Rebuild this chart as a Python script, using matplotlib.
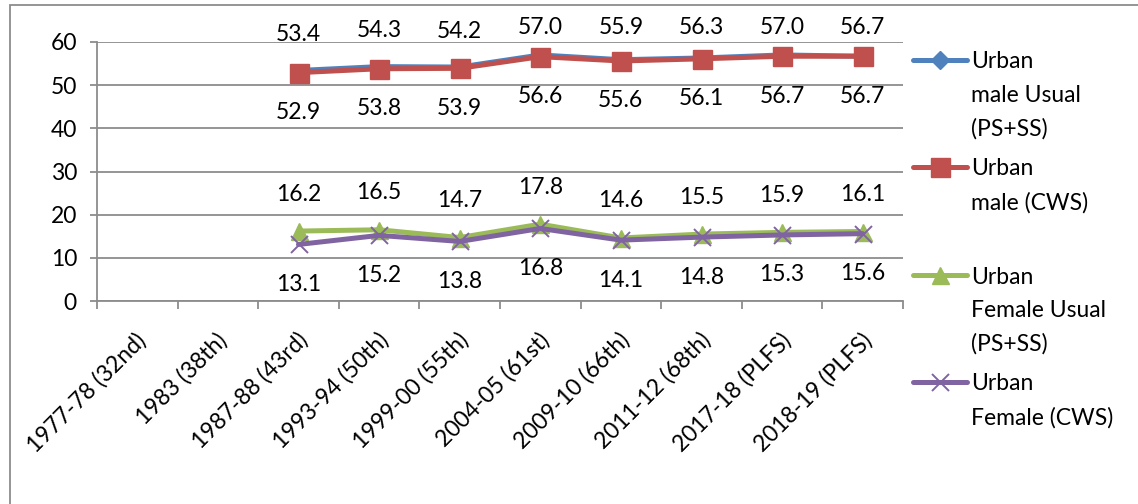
import numpy as np
import matplotlib
matplotlib.use("Agg")
import matplotlib.pyplot as plt
from matplotlib.lines import Line2D
from matplotlib.patches import Rectangle
from matplotlib.transforms import ScaledTranslation

plt.rcParams['font.family'] = ['Lato', 'DejaVu Sans']

# ---- data ----
rounds = ["1977-78 (32nd)", "1983 (38th)", "1987-88 (43rd)", "1993-94 (50th)",
          "1999-00 (55th)", "2004-05 (61st)", "2009-10 (66th)", "2011-12 (68th)",
          "2017-18 (PLFS)", "2018-19 (PLFS)"]
urban_male_usual = [None, None, 53.4, 54.3, 54.2, 57.0, 55.9, 56.3, 57.0, 56.7]
urban_male_cws = [None, None, 52.9, 53.8, 53.9, 56.6, 55.6, 56.1, 56.7, 56.7]
urban_female_usual = [None, None, 16.2, 16.5, 14.7, 17.8, 14.6, 15.5, 15.9, 16.1]
urban_female_cws = [None, None, 13.1, 15.2, 13.8, 16.8, 14.1, 14.8, 15.3, 15.6]

series_labels = [["Urban", "male Usual", "(PS+SS)"],
                 ["Urban", "male (CWS)"],
                 ["Urban", "Female Usual", "(PS+SS)"],
                 ["Urban", "Female (CWS)"]]
yticks = [0, 10, 20, 30, 40, 50, 60]

W, H = 1138, 504
DPI = 100
fig = plt.figure(figsize=(W / DPI, H / DPI), dpi=DPI)
PX = 72.0 / DPI  # points per pixel
FS = 16.5

def fx(px):
    return px / W

def fy(py):
    return 1 - py / H

# outer chart frame
fig.patches.append(Rectangle((fx(10), fy(520)), fx(1150) - fx(10), fy(5) - fy(520),
                             transform=fig.transFigure, fill=False,
                             edgecolor="#8c8c8c", linewidth=1.3))

ax = fig.add_axes([fx(97), fy(301), fx(903) - fx(97), fy(42) - fy(301)])
ax.set_xlim(-0.5, len(rounds) - 0.5)
ax.set_ylim(0, 60)

grid_c = "#8c8c8c"
for s in ["top", "right"]:
    ax.spines[s].set_visible(False)
for s in ["left", "bottom"]:
    ax.spines[s].set_color(grid_c)
    ax.spines[s].set_linewidth(1.3)

ax.set_yticks(yticks)
ax.yaxis.grid(True, color=grid_c, linewidth=1.3)
ax.set_axisbelow(True)
ax.tick_params(axis="y", length=7 * PX, width=1.3, color=grid_c, pad=13 * PX,
               labelsize=FS, labelcolor="black")

x = np.arange(len(rounds))
ax.set_xticks(x)
ax.set_xticklabels(rounds, rotation=45, ha="right", rotation_mode="anchor",
                   fontsize=FS)
ax.tick_params(axis="x", which="major", length=0, pad=28 * PX)
shift = ScaledTranslation(-2 / DPI, 0, fig.dpi_scale_trans)
for t in ax.get_xticklabels():
    t.set_transform(t.get_transform() + shift)
ax.set_xticks(np.arange(-0.5, len(rounds)), minor=True)
ax.tick_params(axis="x", which="minor", length=8 * PX, width=1.3, color=grid_c)

styles = [
    dict(color="#4F81BD", marker="D", markersize=9 * PX),
    dict(color="#C0504D", marker="s", markersize=19 * PX),
    dict(color="#9BBB59", marker="^", markersize=17 * PX),
    dict(color="#8064A2", marker="x", markersize=17 * PX, markeredgewidth=1.4),
]
series = [urban_male_usual, urban_male_cws, urban_female_usual, urban_female_cws]

for vals, st in zip(series, styles):
    xs = [i for i, v in enumerate(vals) if v is not None]
    ys = [v for v in vals if v is not None]
    ax.plot(xs, ys, linewidth=5 * PX, solid_capstyle="round", zorder=3, **st)

# value labels: above for "Usual", below for "CWS"
label_offsets = [36, -40, 37, -40]
for vals, off in zip(series, label_offsets):
    for i, v in enumerate(vals):
        if v is None:
            continue
        d = off
        if off > 0:
            py = H - ax.transData.transform((i, v))[1]
            d = min(off, py - 27)
        ax.annotate(f"{v:.1f}", (i, v), xytext=(0, d * PX),
                    textcoords="offset points", ha="center", va="center",
                    fontsize=FS, annotation_clip=False, zorder=4)

# legend drawn beside the plot area
legend_y = [60, 167, 275, 382]
line_step = 33.5
legend_styles = [dict(st) for st in styles]
legend_styles[0]["markersize"] = 13 * PX
for lines, st, ly in zip(series_labels, legend_styles, legend_y):
    ln = Line2D([fx(913), fx(967)], [fy(ly), fy(ly)], transform=fig.transFigure,
                linewidth=5 * PX, solid_capstyle="round", color=st["color"])
    fig.lines.append(ln)
    mk = Line2D([fx(940)], [fy(ly)], transform=fig.transFigure, linestyle="none",
                **st)
    fig.lines.append(mk)
    for k, txt in enumerate(lines):
        fig.text(fx(971), fy(ly + k * line_step), txt, ha="left",
                 va="center_baseline", fontsize=FS)

fig.savefig("out.png", dpi=DPI)
